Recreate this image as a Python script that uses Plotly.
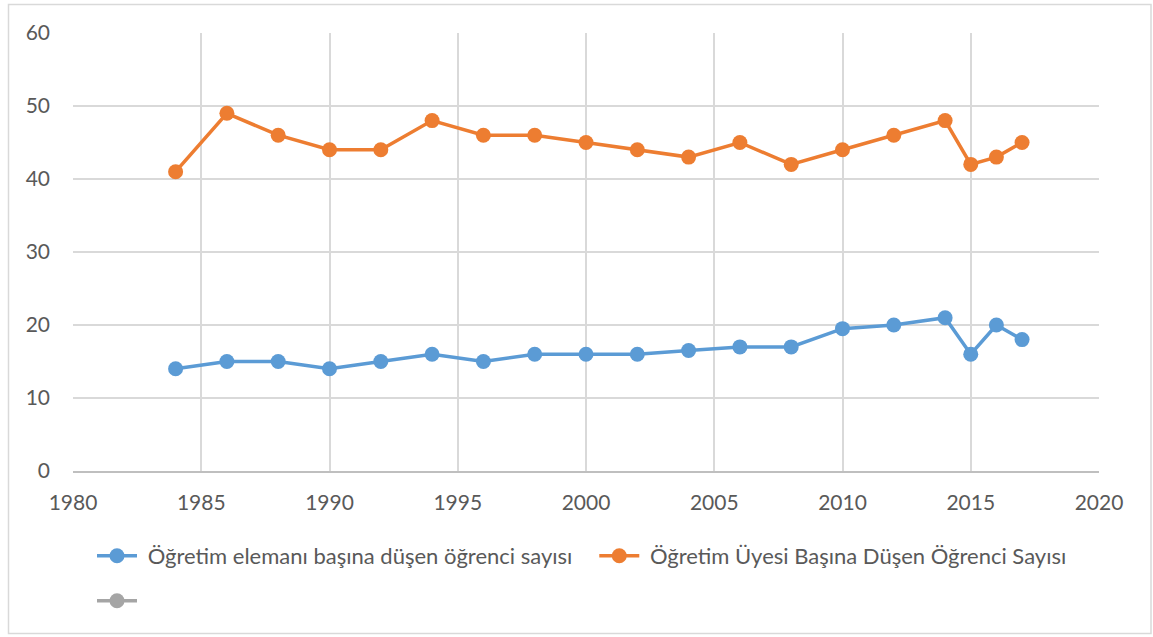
import plotly.graph_objects as go

years = [1984, 1986, 1988, 1990, 1992, 1994, 1996, 1998, 2000, 2002, 2004, 2006, 2008, 2010, 2012, 2014, 2015, 2016, 2017]
elemani = [14, 15, 15, 14, 15, 16, 15, 16, 16, 16, 16.5, 17, 17, 19.5, 20, 21, 16, 20, 18]
uyesi = [41, 49, 46, 44, 44, 48, 46, 46, 45, 44, 43, 45, 42, 44, 46, 48, 42, 43, 45]

name1 = "Öğretim elemanı başına düşen öğrenci sayısı"
name2 = "Öğretim Üyesi Başına Düşen Öğrenci Sayısı"

blue = "#5b9bd5"
orange = "#ed7d31"
gray = "#a5a5a5"

NB = "\u00a0"

fig = go.Figure()
fig.add_trace(go.Scatter(x=years, y=elemani, name=NB + name1 + NB * 3, mode="lines+markers",
                         line=dict(color=blue, width=3.5), marker=dict(color=blue, size=15)))
fig.add_trace(go.Scatter(x=years, y=uyesi, name=NB + name2, mode="lines+markers",
                         line=dict(color=orange, width=3.5), marker=dict(color=orange, size=15)))
fig.add_trace(go.Scatter(x=[None], y=[None], name="", mode="lines+markers", legend="legend2",
                         line=dict(color=gray, width=3.5), marker=dict(color=gray, size=15)))

W, H = 1153, 637
L, R, T, B = 73, W - 1099, 33, H - 471
pw, ph = W - L - R, H - T - B

def px(x):
    return (x - L) / pw

def py(y):
    return (H - B - y) / ph

fig.update_layout(
    width=W, height=H,
    margin=dict(l=L, r=R, t=T, b=B),
    paper_bgcolor="white", plot_bgcolor="white",
    font=dict(family="Lato, 'Open Sans', sans-serif", color="#595959", size=21),
    xaxis=dict(range=[1980, 2020], dtick=5, tick0=1980, showgrid=True, gridcolor="#d9d9d9", gridwidth=1.5,
               showline=True, linecolor="#bfbfbf", linewidth=1.5, mirror=False, zeroline=False,
               ticks="", ticklabelstandoff=12, tickfont=dict(size=21, color="#595959")),
    yaxis=dict(range=[0, 60], dtick=10, showgrid=True, gridcolor="#d9d9d9", gridwidth=1.5,
               showline=False, zeroline=False, ticks="", ticklabelstandoff=22,
               tickfont=dict(size=21, color="#595959")),
    legend=dict(orientation="h", x=px(92), y=py(556), xanchor="left", yanchor="middle",
                font=dict(size=22, color="#595959"), itemwidth=40, tracegroupgap=0),
    legend2=dict(orientation="h", x=px(92), y=py(601), xanchor="left", yanchor="middle",
                 font=dict(size=22, color="#595959"), itemwidth=40),
    shapes=[dict(type="rect", xref="paper", yref="paper", x0=px(8.5), x1=px(1151), y0=py(633.5), y1=py(4.5),
                 line=dict(color="#d9d9d9", width=1.5), fillcolor="rgba(0,0,0,0)", layer="below")],
    showlegend=True,
)

fig.write_html("out.html", config={"displayModeBar": False},
               post_script="document.body.style.margin='0';document.body.style.overflow='hidden';")
